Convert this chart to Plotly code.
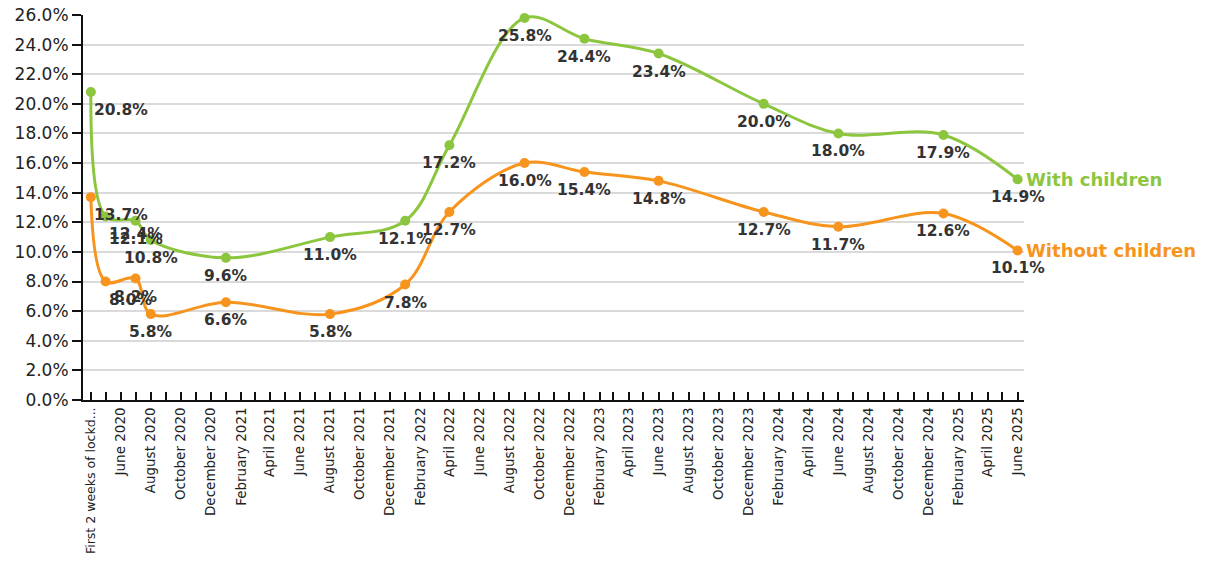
import plotly.graph_objects as go
import pandas as pd

# ---- data ----
survey_dates = ["2020-04-01", "2020-05-01", "2020-07-01", "2020-08-01", "2021-01-01",
                "2021-08-01", "2022-01-01", "2022-04-01", "2022-09-01", "2023-01-01",
                "2023-06-01", "2024-01-01", "2024-06-01", "2025-01-01", "2025-06-01"]
with_children = [20.8, 12.4, 12.1, 10.8, 9.6, 11.0, 12.1, 17.2, 25.8, 24.4,
                 23.4, 20.0, 18.0, 17.9, 14.9]
without_children = [13.7, 8.0, 8.2, 5.8, 6.6, 5.8, 7.8, 12.7, 16.0, 15.4,
                    14.8, 12.7, 11.7, 12.6, 10.1]

tick_labels = ["First 2 weeks of lockd...", "June 2020", "August 2020", "October 2020",
               "December 2020", "February 2021", "April 2021", "June 2021", "August 2021",
               "October 2021", "December 2021", "February 2022", "April 2022", "June 2022",
               "August 2022", "October 2022", "December 2022", "February 2023", "April 2023",
               "June 2023", "August 2023", "October 2023", "December 2023", "February 2024",
               "April 2024", "June 2024", "August 2024", "October 2024", "December 2024",
               "February 2025", "April 2025", "June 2025"]

series = [
    ("With children", with_children, "#8cc63f"),
    ("Without children", without_children, "#f7941d"),
]

# monthly ticks, labelled every second month
tick_dates = pd.date_range("2020-04-01", "2025-06-01", freq="MS")
tick_text = []
for i, d in enumerate(tick_dates):
    if i % 2:
        tick_text.append("")
    elif i == 0:
        tick_text.append(f"<span style='font-size:12.5px'>{tick_labels[0]}</span>")
    else:
        tick_text.append(tick_labels[i // 2])

fig = go.Figure()
label_font = dict(family="DejaVu Sans", size=15.5, color="#333333", weight="bold")

for name, vals, color in series:
    y = [v / 100 for v in vals]
    fig.add_trace(go.Scatter(
        x=survey_dates, y=y, mode="lines+markers", name=name,
        line=dict(color=color, width=3, shape="spline", smoothing=1),
        marker=dict(color=color, size=10),
        showlegend=False, cliponaxis=False,
    ))
    for i, (d, v) in enumerate(zip(survey_dates, vals)):
        left = i < 2
        fig.add_annotation(
            x=d, y=v / 100, text=f"{v:.1f}%", showarrow=False,
            xanchor="left" if left else "center", xshift=1 if left else 0,
            yanchor="middle", yshift=-18, font=label_font,
        )
    fig.add_annotation(
        x=survey_dates[-1], y=vals[-1] / 100, text=name, showarrow=False,
        xanchor="left", xshift=6, yanchor="middle",
        font=dict(family="DejaVu Sans", size=18, color=color, weight="bold"),
    )

# page body has an 8px margin, so the plot area is offset accordingly
fig.update_layout(
    width=1221, height=565,
    margin=dict(l=75, r=205, t=7, b=173),
    plot_bgcolor="white", paper_bgcolor="white",
    font=dict(family="DejaVu Sans", color="#222222"),
)
fig.update_xaxes(
    type="date", range=["2020-03-16", "2025-06-14"], automargin=False,
    tickmode="array", tickvals=tick_dates, ticktext=tick_text,
    tickangle=-90, tickfont=dict(size=13.5, color="#222222"),
    ticklabeloverflow="allow",
    ticks="inside", ticklen=8, tickwidth=1.5, tickcolor="#111111",
    showline=True, linecolor="#111111", linewidth=2,
    showgrid=False, zeroline=False,
)
fig.update_yaxes(
    range=[0, 0.26], tickmode="linear", tick0=0, dtick=0.02, tickformat=".1%",
    automargin=False, ticklabeloverflow="allow",
    tickfont=dict(size=17, color="#222222"),
    ticks="outside", ticklen=9, tickwidth=1.5, tickcolor="#111111",
    showline=True, linecolor="#111111", linewidth=2,
    showgrid=True, gridcolor="#dadada", gridwidth=2, zeroline=False,
)

fig.write_html("out.html")
